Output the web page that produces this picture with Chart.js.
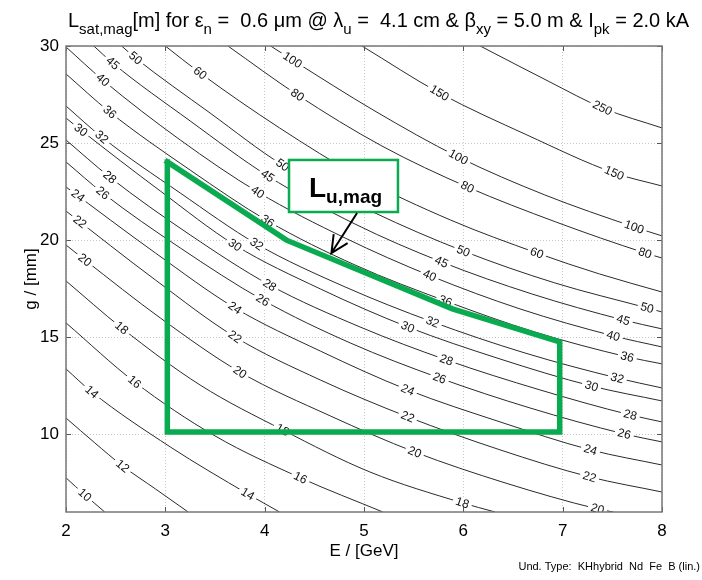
<!DOCTYPE html>
<html>
<head>
<meta charset="utf-8">
<script src="https://cdn.jsdelivr.net/npm/chart.js@4/dist/chart.umd.min.js"></script>
<style>
  html, body { margin: 0; padding: 0; background: #ffffff; }
  #wrap { width: 702px; height: 580px; }
</style>
</head>
<body>
<div id="wrap"><canvas id="c" width="702" height="580"></canvas></div>
<script>
// Saturation length contours L_sat,mag [m] over beam energy E [GeV] and gap g [mm]
const xTickValues = [2, 3, 4, 5, 6, 7, 8];
const yTickValues = [10, 15, 20, 25, 30];

const contourLevels = [10, 12, 14, 16, 18, 20, 22, 24, 26, 28, 30, 32, 36, 40, 45, 50, 60, 80, 100, 150, 250];

// each contour: [E, g] points
const L10  = [[2.00,7.76],[2.19,6.88],[2.39,6.00]];
const L12  = [[2.00,10.84],[2.29,9.56],[2.57,8.37],[2.90,7.19],[3.23,6.00]];
const L14  = [[2.00,13.37],[2.26,12.18],[3.05,9.35],[3.83,6.93],[4.15,6.00]];
const L16  = [[2.00,15.74],[2.69,12.70],[3.50,9.92],[4.36,7.76],[5.19,6.00]];
const L18  = [[2.00,17.90],[2.56,15.48],[3.35,12.54],[4.18,10.23],[5.06,8.06],[5.99,6.47],[6.32,6.00]];
const L20  = [[2.00,19.75],[2.19,18.98],[2.95,15.99],[3.75,13.21],[4.66,10.95],[5.51,9.09],[6.42,7.50],[7.35,6.16],[7.51,6.00]];
const L22  = [[2.00,21.50],[2.90,17.95],[3.70,15.02],[4.56,12.80],[5.44,10.90],[6.37,9.20],[7.27,7.81],[8.00,7.03]];
const L24  = [[2.00,22.74],[2.90,19.34],[3.70,16.51],[4.56,14.29],[5.44,12.29],[6.37,10.64],[7.28,9.20],[8.00,8.42]];
const L26  = [[2.00,24.03],[2.37,22.43],[3.15,19.60],[3.98,16.92],[4.86,14.71],[5.76,12.90],[6.67,11.36],[7.62,10.02],[8.00,9.61]];
const L28  = [[2.00,25.16],[2.44,23.25],[3.25,20.27],[4.05,17.69],[4.96,15.53],[5.83,13.83],[6.77,12.29],[7.68,11.00],[8.00,10.64]];
const L30  = [[2.00,26.29],[2.15,25.67],[2.95,22.53],[3.70,19.75],[4.56,17.49],[5.44,15.53],[6.37,13.88],[7.29,12.49],[8.00,11.72]];
const L32  = [[2.00,26.91],[2.36,25.31],[3.15,22.43],[3.92,19.80],[4.81,17.59],[5.69,15.79],[6.62,14.19],[7.55,12.90],[8.00,12.39]];
const L36  = [[2.00,28.56],[2.44,26.60],[3.25,23.61],[4.03,20.99],[4.91,18.72],[5.82,16.87],[6.72,15.27],[7.65,13.99],[8.00,13.63]];
const L40  = [[2.00,29.95],[2.37,28.25],[3.15,25.16],[3.93,22.48],[4.81,20.11],[5.67,18.16],[6.57,16.46],[7.51,15.07],[8.00,14.50]];
const L45  = [[2.28,30.00],[2.47,29.12],[3.25,26.14],[4.03,23.31],[4.91,20.83],[5.78,18.88],[6.69,17.23],[7.61,15.89],[8.00,15.43]];
const L50  = [[2.56,30.00],[2.70,29.38],[3.45,26.55],[4.18,23.87],[5.09,21.45],[6.00,19.44],[6.92,17.80],[7.85,16.51],[8.00,16.30]];
const L60  = [[3.00,30.00],[3.35,28.61],[4.15,25.78],[4.96,23.25],[5.87,21.04],[6.74,19.34],[7.37,18.26],[8.00,17.33]];
const L80  = [[3.63,30.00],[4.33,27.48],[5.18,24.85],[6.04,22.74],[6.93,20.94],[7.83,19.34],[8.00,19.08]];
const L100 = [[4.06,30.00],[4.28,29.28],[5.11,26.65],[5.95,24.28],[6.82,22.33],[7.72,20.68],[8.00,20.22]];
const L150 = [[4.98,30.00],[5.76,27.58],[6.64,25.42],[7.52,23.46],[8.00,22.79]];
const L250 = [[6.17,30.00],[6.87,28.15],[7.40,26.81],[8.00,25.78]];

const contourLines = [L10, L12, L14, L16, L18, L20, L22, L24, L26, L28, L30, L32, L36, L40, L45, L50, L60, L80, L100, L150, L250];

// energies at which each contour carries its inline value label
const labelE = [
  [2.19], [2.57], [2.26, 3.83], [2.69, 4.36], [2.56, 4.18, 5.99],
  [2.19, 3.75, 5.51, 7.35], [2.14, 3.70, 5.44, 7.27], [2.12, 3.70, 5.44, 7.28],
  [2.37, 3.98, 5.76, 7.62], [2.44, 4.05, 5.83, 7.68], [2.15, 3.70, 5.44, 7.29],
  [2.36, 3.92, 5.69, 7.55], [2.44, 4.03, 5.82, 7.65], [2.37, 3.93, 5.66, 7.51],
  [2.47, 4.03, 5.78, 7.61], [2.70, 4.18, 6.00, 7.85], [3.35, 6.74],
  [4.33, 6.04, 7.83], [4.28, 5.95, 7.72], [5.76, 7.52], [7.40]
];

// operating region outline
const regionE = [3.02, 4.22, 5.89, 6.97, 6.97, 3.02, 3.02];
const regionG = [24.03, 20.00, 16.46, 14.76, 10.12, 10.12, 24.03];

// callout box and arrow (data units)
const calloutBoxE = [4.245, 5.342];
const calloutBoxG = [24.13, 21.45];
const calloutArrowE = [4.93, 4.672];
const calloutArrowG = [21.40, 19.34];

const FONT = '"Liberation Sans", Arial, Helvetica, sans-serif';
const GREEN = '#0aab50';
const LINE = '#2a2a2a';

const datasets = [{
  label: 'region',
  data: regionE.map((e, i) => ({ x: e, y: regionG[i] })),
  showLine: true,
  borderColor: GREEN,
  borderWidth: 5.5,
  pointRadius: 0,
  borderJoinStyle: 'miter',
  borderCapStyle: 'square',
  tension: 0
}];
contourLines.forEach((pts, k) => {
  datasets.push({
    label: 'L = ' + contourLevels[k],
    data: pts.map(p => ({ x: p[0], y: p[1] })),
    showLine: true,
    borderColor: LINE,
    borderWidth: 1,
    pointRadius: 0,
    cubicInterpolationMode: 'monotone'
  });
});

function locateOnLine(pts, e) {
  for (let i = 0; i < pts.length - 1; i++) {
    const a = pts[i], b = pts[i + 1];
    if (e >= a[0] && e <= b[0]) {
      const t = (e - a[0]) / (b[0] - a[0]);
      return { g: a[1] + t * (b[1] - a[1]), a, b };
    }
  }
  return null;
}

const contourLabelPlugin = {
  id: 'contourLabels',
  afterDatasetDraw(chart, args) {
    if (args.index !== 1) return;
    const ctx = chart.ctx, xs = chart.scales.x, ys = chart.scales.y, ca = chart.chartArea;
    ctx.save();
    ctx.beginPath();
    ctx.rect(ca.left, ca.top, ca.right - ca.left, ca.bottom - ca.top);
    ctx.clip();
    ctx.font = '12px ' + FONT;
    ctx.textAlign = 'center';
    ctx.textBaseline = 'middle';
    contourLines.forEach((pts, k) => {
      const txt = String(contourLevels[k]);
      labelE[k].forEach(e => {
        const loc = locateOnLine(pts, e);
        if (!loc) return;
        const px = xs.getPixelForValue(e), py = ys.getPixelForValue(loc.g);
        const ang = Math.atan2(ys.getPixelForValue(loc.b[1]) - ys.getPixelForValue(loc.a[1]),
                               xs.getPixelForValue(loc.b[0]) - xs.getPixelForValue(loc.a[0]));
        const w = ctx.measureText(txt).width;
        ctx.save();
        ctx.translate(px, py);
        ctx.rotate(ang);
        ctx.fillStyle = '#ffffff';
        ctx.fillRect(-w / 2 - 3, -6, w + 6, 12);
        ctx.fillStyle = '#111111';
        ctx.fillText(txt, 0, 0.5);
        ctx.restore();
      });
    });
    ctx.restore();
  }
};

const framePlugin = {
  id: 'frameAndText',
  afterDatasetsDraw(chart) {
    const ctx = chart.ctx, xs = chart.scales.x, ys = chart.scales.y, ca = chart.chartArea;
    ctx.save();
    // inner tick marks
    ctx.strokeStyle = '#555555';
    ctx.lineWidth = 1;
    ctx.beginPath();
    xTickValues.forEach(v => {
      const x = Math.round(xs.getPixelForValue(v)) + 0.5;
      ctx.moveTo(x, ca.bottom); ctx.lineTo(x, ca.bottom - 5);
      ctx.moveTo(x, ca.top); ctx.lineTo(x, ca.top + 5);
    });
    yTickValues.forEach(v => {
      const y = Math.round(ys.getPixelForValue(v)) + 0.5;
      ctx.moveTo(ca.left, y); ctx.lineTo(ca.left + 5, y);
      ctx.moveTo(ca.right, y); ctx.lineTo(ca.right - 5, y);
    });
    ctx.stroke();
    // frame
    ctx.strokeStyle = '#777777';
    ctx.lineWidth = 1.5;
    ctx.strokeRect(ca.left, ca.top, ca.right - ca.left, ca.bottom - ca.top);

    // callout box
    const bx0 = xs.getPixelForValue(calloutBoxE[0]), bx1 = xs.getPixelForValue(calloutBoxE[1]);
    const by0 = ys.getPixelForValue(calloutBoxG[0]), by1 = ys.getPixelForValue(calloutBoxG[1]);
    ctx.fillStyle = '#ffffff';
    ctx.fillRect(bx0, by0, bx1 - bx0, by1 - by0);
    ctx.strokeStyle = GREEN;
    ctx.lineWidth = 2.5;
    ctx.strokeRect(bx0, by0, bx1 - bx0, by1 - by0);
    ctx.fillStyle = '#000000';
    ctx.textBaseline = 'alphabetic';
    ctx.textAlign = 'left';
    ctx.font = 'bold 28px ' + FONT;
    const lx = bx0 + 20, ly = by0 + 37;
    ctx.fillText('L', lx, ly);
    const lw = ctx.measureText('L').width;
    ctx.font = 'bold 19px ' + FONT;
    ctx.fillText('u,mag', lx + lw, ly + 6);

    // arrow
    const ax0 = xs.getPixelForValue(calloutArrowE[0]), ay0 = ys.getPixelForValue(calloutArrowG[0]);
    const ax1 = xs.getPixelForValue(calloutArrowE[1]), ay1 = ys.getPixelForValue(calloutArrowG[1]);
    const a = Math.atan2(ay1 - ay0, ax1 - ax0);
    ctx.strokeStyle = '#000000';
    ctx.lineWidth = 2;
    ctx.beginPath();
    ctx.moveTo(ax0, ay0); ctx.lineTo(ax1, ay1);
    const hl = 19, spread = 0.45;
    ctx.moveTo(ax1 - hl * Math.cos(a - spread), ay1 - hl * Math.sin(a - spread));
    ctx.lineTo(ax1, ay1);
    ctx.lineTo(ax1 - hl * Math.cos(a + spread), ay1 - hl * Math.sin(a + spread));
    ctx.stroke();

    // title with subscripts
    const titleParts = [
      ['L', 0], ['sat,mag', 1], ['[m] for ε', 0], ['n', 1], [' =  0.6 μm @ λ', 0], ['u', 1],
      [' =  4.1 cm & β', 0], ['xy', 1], [' = 5.0 m & I', 0], ['pk', 1], [' = 2.0 kA', 0]
    ];
    let tx = 68;
    const tBase = 27;
    titleParts.forEach(p => {
      ctx.font = (p[1] ? '15px ' : '20px ') + FONT;
      ctx.fillText(p[0], tx, p[1] ? tBase + 7 : tBase);
      tx += ctx.measureText(p[0]).width;
    });

    // axis titles
    ctx.font = '17px ' + FONT;
    ctx.textAlign = 'center';
    ctx.textBaseline = 'middle';
    ctx.fillText('E / [GeV]', (ca.left + ca.right) / 2, 551);
    ctx.save();
    ctx.translate(31, (ca.top + ca.bottom) / 2);
    ctx.rotate(-Math.PI / 2);
    ctx.fillText('g / [mm]', 0, 0);
    ctx.restore();

    // undulator note
    ctx.font = '11px ' + FONT;
    ctx.textAlign = 'right';
    ctx.textBaseline = 'middle';
    ctx.fillText('Und. Type:  KHhybrid  Nd  Fe  B (lin.)', 700, 567);
    ctx.restore();
  }
};

new Chart(document.getElementById('c'), {
  type: 'scatter',
  data: { datasets },
  options: {
    responsive: false,
    animation: false,
    devicePixelRatio: 1,
    layout: { padding: { left: 0, top: 46, right: 40, bottom: 0 } },
    plugins: { legend: { display: false }, tooltip: { enabled: false }, title: { display: false } },
    scales: {
      x: {
        type: 'linear', min: 2, max: 8,
        afterBuildTicks: s => { s.ticks = xTickValues.map(v => ({ value: v })); },
        afterFit: s => { s.height = 68; },
        ticks: { font: { size: 17, family: FONT }, color: '#000000', padding: 9 },
        grid: { color: '#c8c8c8', drawTicks: false, lineWidth: 1 },
        border: { display: false, dash: [1, 2] }
      },
      y: {
        type: 'linear', min: 6, max: 30,
        afterBuildTicks: s => { s.ticks = yTickValues.map(v => ({ value: v })); },
        afterFit: s => { s.width = 66; },
        ticks: { font: { size: 17, family: FONT }, color: '#000000', padding: 7 },
        grid: { color: '#c8c8c8', drawTicks: false, lineWidth: 1 },
        border: { display: false, dash: [1, 2] }
      }
    }
  },
  plugins: [contourLabelPlugin, framePlugin]
});
</script>
</body>
</html>
